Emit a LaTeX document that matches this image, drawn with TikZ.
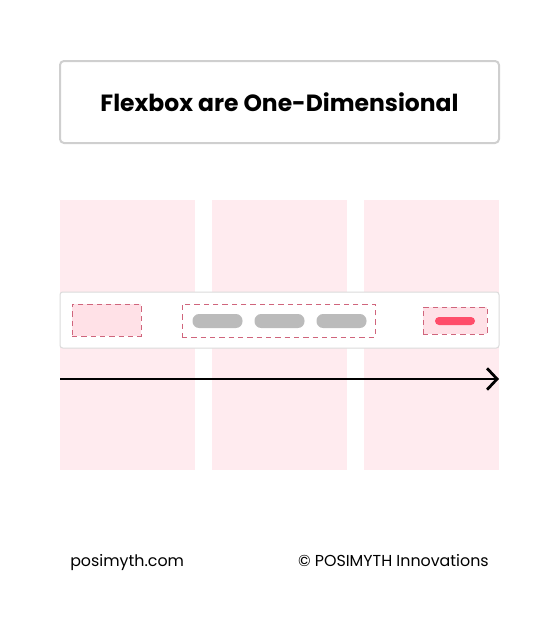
\documentclass[tikz,border=0pt]{standalone}
\usepackage{fontspec}
\setmainfont{Poppins}
\usetikzlibrary{arrows.meta}
\definecolor{colpink}{HTML}{FFEBEF}
\definecolor{itempink}{HTML}{FFE1E7}
\definecolor{dashred}{HTML}{D0657C}
\definecolor{pillgray}{HTML}{BBBBBB}
\definecolor{pillred}{HTML}{FF4D6A}
\definecolor{boxgray}{HTML}{CFCFCF}

\begin{document}
\begin{tikzpicture}[
            x=0.75pt,y=-0.75pt,
            titlebox/.style={draw=boxgray,line width=1.5pt,rounded corners=3pt,minimum width=329.25pt,minimum height=61.5pt,font=\fontsize{17.6}{20}\selectfont\bfseries},
            item/.style={draw=dashred,dashed,dash pattern=on 4pt off 3pt,line width=0.75pt,inner sep=0pt},
            pill/.style={fill=#1,rounded corners=5pt,inner sep=0pt},
            footer/.style={font=\fontsize{11.9}{14}\selectfont,inner sep=0pt}
        ]
            \useasboundingbox (0,0) rectangle (560,621);

            \foreach \x in {60,212,364} {
                \fill [colpink] (\x,200) rectangle ++(135,270);
            }

            \node [titlebox] (title) at (279.5,102) {Flexbox are One-Dimensional};

            \node [draw=black!14,fill=white,line width=0.75pt,rounded corners=2pt,minimum width=329.25pt,minimum height=42pt] (bar) at (279.5,320) {};

            \node [item,fill=itempink,minimum width=51.75pt,minimum height=24pt] (first) at (106.5,320) {};
            \node [item,fill=white,minimum width=144.75pt,minimum height=24.75pt] (middle) at (278.5,320.5) {};
            \node [item,fill=itempink,minimum width=48pt,minimum height=20.25pt] (last) at (455,320.5) {};

            \foreach \x/\n in {217.5/a,279.5/b,341.5/c} {
                \node [pill=pillgray,minimum width=37.5pt,minimum height=10.5pt] (pill\n) at (\x,321) {};
            }
            \node [pill=pillred,rounded corners=3pt,minimum width=30pt,minimum height=6pt] (redpill) at (455,321) {};

            \coordinate (start) at (60,379);
            \coordinate (end) at (499,379);
            \draw [-{Straight Barb[length=7.5pt,width=16pt]},line width=2.1pt] (start) -- (end);

            \node [footer,anchor=base west] (site) at (70,566) {posimyth.com};
            \node [footer,anchor=base east] (copy) at (489,566) {© POSIMYTH Innovations};
        \end{tikzpicture}
\end{document}
